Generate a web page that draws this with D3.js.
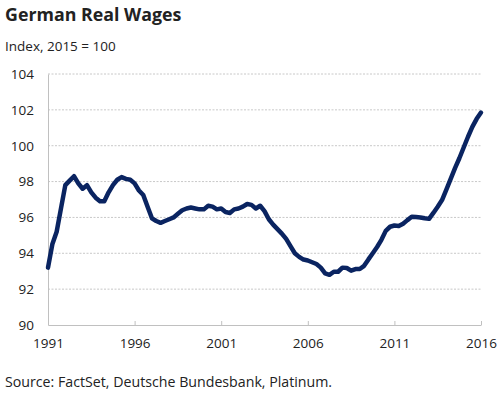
<!DOCTYPE html>
<html lang="en">
<head>
<meta charset="UTF-8">
<title>German Real Wages</title>
<style>
    body { margin: 0; background: #fff; }
    svg text { font-family: "Open Sans", "Noto Sans", sans-serif; fill: #222; }
</style>
</head>
<body>
<svg id="chart"></svg>
<script src="https://d3js.org/d3.v7.min.js"></script>
<script>
    // quarterly index values, 1991 Q1 .. 2016 Q1 (2015 = 100)
    const startYear = 1991;
    const wages = [
        93.2, 94.5, 95.2, 96.5,
        97.8, 98.05, 98.3, 97.9,
        97.6, 97.8, 97.4, 97.1,
        96.9, 96.9, 97.4, 97.8,
        98.1, 98.25, 98.15, 98.1,
        97.9, 97.5, 97.25, 96.6,
        95.95, 95.8, 95.7, 95.8,
        95.9, 96.0, 96.2, 96.4,
        96.5, 96.55, 96.5, 96.45,
        96.45, 96.65, 96.6, 96.45,
        96.5, 96.3, 96.25, 96.45,
        96.5, 96.6, 96.75, 96.7,
        96.5, 96.65, 96.35, 95.9,
        95.6, 95.35, 95.1, 94.8,
        94.4, 94.0, 93.8, 93.65,
        93.6, 93.5, 93.4, 93.2,
        92.88, 92.8, 92.97, 92.97,
        93.2, 93.18, 93.03, 93.12,
        93.12, 93.3, 93.66, 94.0,
        94.35, 94.75, 95.25, 95.48,
        95.55, 95.52, 95.65, 95.85,
        96.04, 96.02, 96.0, 95.95,
        95.92, 96.25, 96.6, 96.97,
        97.55, 98.15, 98.75, 99.3,
        99.9, 100.5, 101.05, 101.5,
        101.85
    ];
    const xTicks = [1991, 1996, 2001, 2006, 2011, 2016];
    const yTicks = [90, 92, 94, 96, 98, 100, 102, 104];

    const width = 500, height = 398;
    const margin = { top: 74, right: 19, bottom: 73, left: 48 };

    const svg = d3.select("#chart")
        .attr("width", width)
        .attr("height", height);

    const data = wages.map((v, i) => ({ t: startYear + i / 4, v: v }));

    const x = d3.scaleLinear()
        .domain([1991, 2016])
        .range([margin.left, width - margin.right]);

    const y = d3.scaleLinear()
        .domain([90, 104])
        .range([height - margin.bottom, margin.top]);

    // titles
    svg.append("text")
        .attr("x", 5).attr("y", 21)
        .attr("font-size", 17.8).attr("font-weight", "bold")
        .text("German Real Wages");

    svg.append("text")
        .attr("x", 5).attr("y", 51)
        .attr("font-size", 13.5)
        .text("Index, 2015 = 100");

    // gridlines
    svg.append("g")
        .selectAll("line")
        .data(yTicks.filter(d => d > 90))
        .join("line")
        .attr("x1", margin.left)
        .attr("x2", width - margin.right + 1)
        .attr("y1", d => y(d))
        .attr("y2", d => y(d))
        .attr("stroke", "#c8c8c8")
        .attr("stroke-dasharray", "2,1.5");

    // y axis
    const yAxis = svg.append("g")
        .attr("transform", `translate(${margin.left},0)`)
        .call(d3.axisLeft(y).tickValues(yTicks).tickSize(0).tickPadding(14));
    yAxis.select(".domain").attr("stroke", "#c0c0c0");
    yAxis.selectAll("text").attr("font-size", 13.5).attr("font-family", null);

    // x axis, ticks pointing up
    const xAxis = svg.append("g")
        .attr("transform", `translate(0,${y(90)})`)
        .call(d3.axisBottom(x).tickValues(xTicks).tickFormat(d3.format("d"))
            .tickSizeInner(-4).tickSizeOuter(0).tickPadding(13));
    xAxis.select(".domain").attr("stroke", "#c0c0c0");
    xAxis.selectAll(".tick line").attr("stroke", "#c0c0c0");
    xAxis.selectAll("text").attr("font-size", 13.5).attr("font-family", null);

    // line
    const line = d3.line()
        .x(d => x(d.t))
        .y(d => y(d.v))
        .curve(d3.curveLinear);

    svg.append("path")
        .datum(data)
        .attr("fill", "none")
        .attr("stroke", "#0a2461")
        .attr("stroke-width", 4.5)
        .attr("stroke-linejoin", "round")
        .attr("stroke-linecap", "round")
        .attr("d", line);

    // source
    svg.append("text")
        .attr("x", 5).attr("y", 387)
        .attr("font-size", 14.2)
        .text("Source: FactSet, Deutsche Bundesbank, Platinum.");
</script>
</body>
</html>
